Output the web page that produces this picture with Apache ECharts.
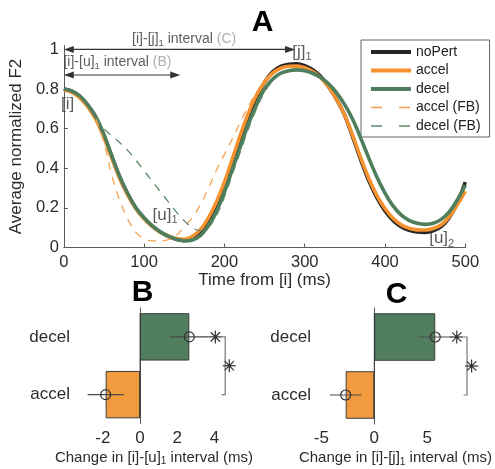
<!DOCTYPE html>
<html><head><meta charset="utf-8">
<script src="https://cdn.jsdelivr.net/npm/echarts@6/dist/echarts.min.js"></script>
<style>html,body{margin:0;padding:0;background:#fff}#c{width:495px;height:469px}</style>
</head><body><div id="c"></div>
<script>
// ---------- Panel A data ----------
const timeMain = [0,10,20,30,40,50,60,70,80,90,100,110,120,130,140,150,160,170,180,190,200,210,220,230,240,250,260,270,280,290,300,310,320,330,340,350,360,370,380,390,400,410,420,430,440,450,460,470,480,490,500];
const noPert = [0.80,0.79,0.762,0.715,0.655,0.565,0.455,0.35,0.265,0.197,0.147,0.108,0.078,0.056,0.041,0.035,0.047,0.078,0.13,0.21,0.305,0.425,0.545,0.66,0.76,0.835,0.887,0.914,0.925,0.927,0.918,0.898,0.863,0.81,0.745,0.665,0.555,0.44,0.335,0.25,0.185,0.137,0.105,0.087,0.078,0.076,0.084,0.105,0.15,0.225,0.33];
const accel = [0.795,0.783,0.755,0.71,0.645,0.555,0.447,0.345,0.262,0.195,0.145,0.107,0.078,0.058,0.045,0.042,0.057,0.09,0.15,0.23,0.33,0.45,0.57,0.68,0.77,0.835,0.88,0.905,0.915,0.916,0.908,0.888,0.857,0.808,0.745,0.667,0.562,0.45,0.347,0.262,0.197,0.148,0.115,0.097,0.089,0.088,0.096,0.115,0.155,0.215,0.285];
const decel = [0.80,0.79,0.765,0.72,0.66,0.57,0.46,0.355,0.27,0.2,0.15,0.11,0.08,0.058,0.042,0.033,0.038,0.06,0.11,0.18,0.28,0.395,0.51,0.625,0.72,0.8,0.85,0.88,0.893,0.897,0.893,0.88,0.858,0.825,0.78,0.72,0.645,0.55,0.45,0.355,0.275,0.21,0.165,0.137,0.122,0.117,0.122,0.142,0.18,0.24,0.315];
const timeAccelFB = [40,50,60,70,80,90,100,110,120,130,140,150,160,170,180,190,200,210,220,230,240,250,260];
const accelFB = [0.648,0.53,0.36,0.235,0.14,0.075,0.045,0.033,0.033,0.04,0.06,0.105,0.15,0.215,0.3,0.39,0.47,0.55,0.635,0.715,0.785,0.84,0.88];
const timeDecelFB = [40,50,60,70,80,90,100,110,120,130,140,150,160,170,180,190,200,210,220,230,240,250,260,270,280];
const decelFB = [0.66,0.6,0.563,0.528,0.488,0.44,0.387,0.335,0.283,0.232,0.18,0.135,0.1,0.085,0.1,0.16,0.255,0.37,0.485,0.6,0.7,0.785,0.84,0.875,0.89];
const xTicksA = [0,100,200,300,400,500];
const yTicksA = [0,0.2,0.4,0.6,0.8,1];
// interval arrows: [start ms, end ms, level]
const arrowStart = [0, 0];
const arrowEnd = [288, 145];
const arrowLevel = [1.0, 0.871];
// annotations (anchor in data coords)
const annoT = [-3.5, 110.5, 284.5, 455, 85, -0.5];
const annoV = [0.725, 0.164, 0.985, 0.045, 1.05, 0.934];
const annoText = ['[i]', '[u]', '[j]', '[u]', '[i]-[j]', '[i]-[u]'];
const annoSub = ['', '1', '1', '2', '1', '1'];
const annoTail = ['', '', '', '', ' interval ', ' interval '];
const annoTag = ['', '', '', '', '(C)', '(B)'];

// ---------- Panels B and C data ----------
const cats = ['accel', 'decel'];
const bMeans = [-1.85, 2.65];
const bErr = [0.97, 1.05];
const cMeans = [-2.7, 5.75];
const cErr = [1.5, 1.55];
const bTicks = [-2, 0, 2, 4];
const cTicks = [-5, 0, 5];
// stars: [x, lower category index, fraction toward next]
const bStars = [[4.05, 1, 0], [4.8, 0, 0.5]];
const cStars = [[7.78, 1, 0], [9.18, 0, 0.5]];
const bBracketX = 4.58;
const cBracketX = 8.75;

// ---------- styling ----------
const FONT = "'Liberation Sans', Arial, Helvetica, sans-serif";
const TXT = '#2b2b2b';
const AX = '#5a5a5a';
const C_BLACK = '#262626', C_ORANGE = '#f5922f', C_GREEN = '#4e7e5c';
const BAR_ORANGE = '#f19a3e', BAR_GREEN = '#527e60';

function pairs(xs, ys) { return xs.map((x, i) => [x, ys[i]]); }

const chart = echarts.init(document.getElementById('c'), null, {renderer: 'canvas'});

function lineSeries(name, xs, ys, color, width, dashed, z) {
  return {
    name, type: 'line', xAxisIndex: 0, yAxisIndex: 0, data: pairs(xs, ys),
    showSymbol: false, symbol: 'none', smooth: 0.35, silent: true, z,
    lineStyle: {color, width, type: dashed ? [8, 7] : 'solid'},
    itemStyle: {color}
  };
}

function panelSeries(k, means, errs, stars, bracketX) {
  const out = [];
  out.push({
    type: 'bar', xAxisIndex: k, yAxisIndex: k, silent: true, z: 2,
    barCategoryGap: '18%',
    data: means.map((v, i) => ({value: v, itemStyle: {color: i === 0 ? BAR_ORANGE : BAR_GREEN}})),
    itemStyle: {borderColor: '#3d3d3d', borderWidth: 1}
  });
  out.push({
    type: 'custom', xAxisIndex: k, yAxisIndex: k, silent: true, z: 3,
    data: [[0, 0]], encode: {x: 0, y: 1},
    renderItem(p, api) {
      const band = api.size([0, 1])[1];
      const top = api.coord([api.value(0), 1]);
      const bot = api.coord([api.value(0), 0]);
      return {type: 'line', shape: {x1: top[0], y1: top[1] - band * 0.41, x2: bot[0], y2: bot[1] + band * 0.41},
        style: {stroke: '#3d3d3d', lineWidth: 1}};
    }
  });
  out.push({
    type: 'custom', xAxisIndex: k, yAxisIndex: k, silent: true, z: 4,
    data: means.map((m, i) => [m - errs[i], m + errs[i], m, i]),
    encode: {x: [0, 1, 2], y: 3},
    renderItem(p, api) {
      const i = api.value(3);
      const a = api.coord([api.value(0), i]);
      const b = api.coord([api.value(1), i]);
      const m = api.coord([api.value(2), i]);
      return {type: 'group', children: [
        {type: 'line', shape: {x1: a[0], y1: a[1], x2: b[0], y2: b[1]}, style: {stroke: '#4a4a4a', lineWidth: 1.2}},
        {type: 'circle', shape: {cx: m[0], cy: m[1], r: 5}, style: {fill: 'none', stroke: '#333', lineWidth: 1.2}}
      ]};
    }
  });
  out.push({
    type: 'custom', xAxisIndex: k, yAxisIndex: k, silent: true, z: 4,
    data: [[bracketX, 0]], encode: {x: 0, y: 1},
    renderItem(p, api) {
      const top = api.coord([api.value(0), 1]);
      const bot = api.coord([api.value(0), 0]);
      return {type: 'polyline', shape: {points: [[top[0] - 3.5, top[1]], top, bot, [bot[0] - 3.5, bot[1]]]},
        style: {stroke: '#777', lineWidth: 1.2, fill: 'none'}};
    }
  });
  out.push({
    type: 'custom', xAxisIndex: k, yAxisIndex: k, silent: true, z: 5,
    data: stars, encode: {x: 0, y: 1},
    renderItem(p, api) {
      const idx = api.value(1), f = api.value(2);
      const a = api.coord([api.value(0), idx]);
      const b = api.coord([api.value(0), Math.min(idx + 1, cats.length - 1)]);
      const cx = a[0], cy = a[1] + (b[1] - a[1]) * f;
      const r = 6.5, d = r * Math.SQRT1_2;
      const st = {stroke: '#333', lineWidth: 1.2};
      return {type: 'group', children: [
        {type: 'line', shape: {x1: cx - r, y1: cy, x2: cx + r, y2: cy}, style: st},
        {type: 'line', shape: {x1: cx, y1: cy - r, x2: cx, y2: cy + r}, style: st},
        {type: 'line', shape: {x1: cx - d, y1: cy - d, x2: cx + d, y2: cy + d}, style: st},
        {type: 'line', shape: {x1: cx - d, y1: cy + d, x2: cx + d, y2: cy - d}, style: st},
        {type: 'circle', shape: {cx, cy, r: 1.8}, style: {fill: '#333'}}
      ]};
    }
  });
  return out;
}

const axisCommon = {
  axisLine: {lineStyle: {color: AX, width: 1}},
  axisTick: {inside: true, length: 4, lineStyle: {color: AX}},
  splitLine: {show: false}
};

function valueAxisBC(k, min, max, ticks, name) {
  return Object.assign({}, axisCommon, {
    gridIndex: k, type: 'value', min, max,
    axisTick: {inside: true, length: 4, lineStyle: {color: AX}, customValues: ticks},
    axisLabel: {fontSize: 17, color: TXT, margin: 6, customValues: ticks, fontFamily: FONT},
    name, nameLocation: 'middle', nameGap: 25,
    nameTextStyle: {fontSize: 15, color: TXT, fontFamily: FONT, rich: {s: {fontSize: 10, padding: [8, 0, 0, 0]}}}
  });
}
function catAxisBC(k) {
  return Object.assign({}, axisCommon, {
    gridIndex: k, type: 'category', data: cats,
    axisTick: {inside: true, length: 4, alignWithLabel: true, lineStyle: {color: AX}},
    axisLabel: {fontSize: 17, color: TXT, margin: 5, fontFamily: FONT}
  });
}

const annoData = annoT.map((t, i) => {
  const big = i < 4;
  let txt = annoText[i];
  if (annoSub[i]) txt += '{' + (big ? 's' : 't') + '|' + annoSub[i] + '}';
  txt += annoTail[i];
  if (annoTag[i]) txt += '{g|' + annoTag[i] + '}';
  return {value: [t, annoV[i]], label: {fontSize: big ? 17 : 14, formatter: () => txt}};
});

const option = {
  animation: false,
  textStyle: {fontFamily: FONT},
  grid: [
    {left: 59.3, right: 29.7, top: 45.5, bottom: 221.5},
    {left: 75, right: 262, top: 308, bottom: 45.5},
    {left: 316, right: 20, top: 308, bottom: 45}
  ],
  xAxis: [
    Object.assign({}, axisCommon, {
      gridIndex: 0, type: 'value', min: 0, max: 500, interval: 100,
      axisTick: {inside: true, length: 4, lineStyle: {color: AX}, customValues: xTicksA},
      axisLabel: {fontSize: 16.5, color: TXT, margin: 6, customValues: xTicksA},
      name: 'Time from [i] (ms)', nameLocation: 'middle', nameGap: 24,
      nameTextStyle: {fontSize: 17, color: TXT}
    }),
    valueAxisBC(1, -3.5, 5, bTicks, 'Change in [i]-[u]{s|1} interval (ms)'),
    valueAxisBC(2, -5.5, 9.5, cTicks, 'Change in [i]-[j]{s|1} interval (ms)')
  ],
  yAxis: [
    Object.assign({}, axisCommon, {
      gridIndex: 0, type: 'value', min: 0, max: 1.02,
      axisTick: {inside: true, length: 4, lineStyle: {color: AX}, customValues: yTicksA},
      axisLabel: {fontSize: 16.5, color: TXT, margin: 5, customValues: yTicksA},
      name: 'Average normalized F2', nameLocation: 'middle', nameGap: 31,
      nameTextStyle: {fontSize: 17, color: TXT}
    }),
    catAxisBC(1),
    catAxisBC(2)
  ],
  legend: {
    left: 361, top: 40, orient: 'vertical', padding: [5, 9, 4, 8],
    borderColor: '#666', borderWidth: 1, itemWidth: 40, itemHeight: 14, itemGap: 4.5,
    selectedMode: false,
    itemStyle: {opacity: 0},
    textStyle: {fontSize: 14, color: '#222', fontFamily: FONT},
    data: [
      {name: 'noPert', lineStyle: {width: 4}},
      {name: 'accel', lineStyle: {width: 4}},
      {name: 'decel', lineStyle: {width: 4}},
      {name: 'accel (FB)', lineStyle: {width: 1.4, type: [11, 17]}},
      {name: 'decel (FB)', lineStyle: {width: 1.4, type: [11, 17]}}
    ]
  },
  graphic: [
    {type: 'text', x: 262.5, y: 23, style: {text: 'A', font: 'bold 30px ' + FONT, fill: '#000', align: 'center', verticalAlign: 'middle'}},
    {type: 'text', x: 142.5, y: 292.5, style: {text: 'B', font: 'bold 30px ' + FONT, fill: '#000', align: 'center', verticalAlign: 'middle'}},
    {type: 'text', x: 396.5, y: 295, style: {text: 'C', font: 'bold 30px ' + FONT, fill: '#000', align: 'center', verticalAlign: 'middle'}}
  ],
  series: [
    lineSeries('noPert', timeMain, noPert, C_BLACK, 3.6, false, 2),
    lineSeries('accel', timeMain, accel, C_ORANGE, 3.6, false, 3),
    lineSeries('decel', timeMain, decel, C_GREEN, 3.6, false, 4),
    lineSeries('accel (FB)', timeAccelFB, accelFB, '#f6a14f', 1.3, true, 5),
    lineSeries('decel (FB)', timeDecelFB, decelFB, '#5c8b6b', 1.3, true, 5),
    {
      type: 'custom', xAxisIndex: 0, yAxisIndex: 0, silent: true, z: 6, clip: false,
      data: arrowStart.map((s, i) => [s, arrowEnd[i], arrowLevel[i]]),
      encode: {x: [0, 1], y: 2},
      renderItem(p, api) {
        const p0 = api.coord([api.value(0), api.value(2)]);
        const p1 = api.coord([api.value(1), api.value(2)]);
        const L = 10, W = 3.5, col = '#333';
        return {type: 'group', children: [
          {type: 'line', shape: {x1: p0[0] + L - 1, y1: p0[1], x2: p1[0] - L + 1, y2: p1[1]}, style: {stroke: col, lineWidth: 1.2}},
          {type: 'polygon', shape: {points: [[p0[0], p0[1]], [p0[0] + L, p0[1] - W], [p0[0] + L, p0[1] + W]]}, style: {fill: col}},
          {type: 'polygon', shape: {points: [[p1[0], p1[1]], [p1[0] - L, p1[1] - W], [p1[0] - L, p1[1] + W]]}, style: {fill: col}}
        ]};
      }
    },
    {
      type: 'scatter', xAxisIndex: 0, yAxisIndex: 0, silent: true, z: 7, clip: false,
      symbolSize: 0, itemStyle: {color: 'transparent'},
      data: annoData,
      label: {
        show: true, position: 'right', distance: 0, color: '#333', fontFamily: FONT,
        rich: {
          s: {fontSize: 11, padding: [10, 0, 0, 0]},
          t: {fontSize: 9.5, padding: [8, 0, 0, 0]},
          g: {color: '#9a9a9a', fontSize: 14}
        }
      }
    }
  ].concat(panelSeries(1, bMeans, bErr, bStars, bBracketX))
   .concat(panelSeries(2, cMeans, cErr, cStars, cBracketX))
};
chart.setOption(option);
</script>
</body></html>
